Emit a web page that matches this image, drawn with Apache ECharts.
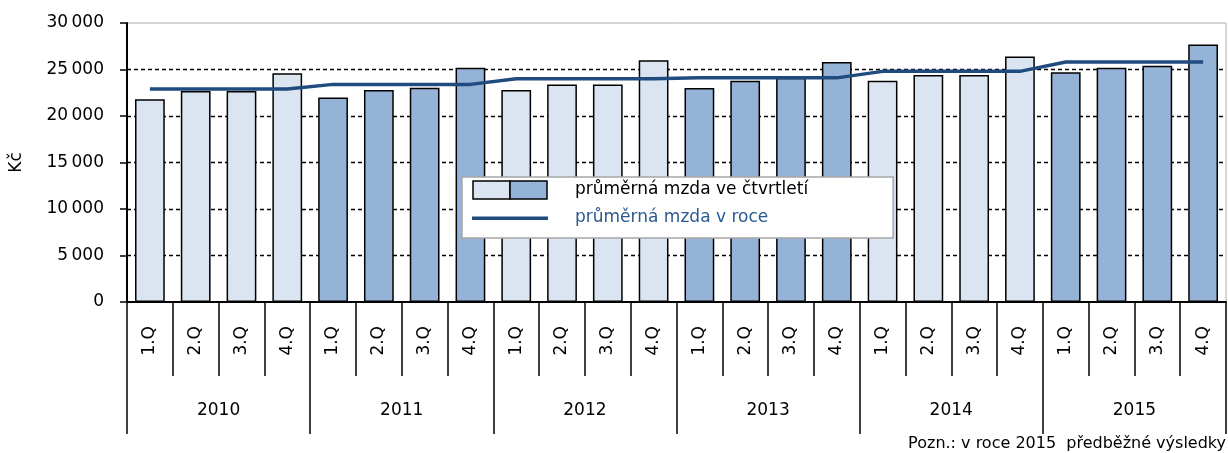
<!DOCTYPE html>
<html>
<head>
<meta charset="utf-8">
<script src="https://cdn.jsdelivr.net/npm/echarts@6/dist/echarts.min.js"></script>
<style>
  html, body { margin: 0; padding: 0; background: #fff; }
  #chart { width: 1228px; height: 453px; }
</style>
</head>
<body>
<div id="chart"></div>
<script>
// data
var years = ['2010', '2011', '2012', '2013', '2014', '2015'];
var quarters = ['1.Q', '2.Q', '3.Q', '4.Q'];
var quarterWage = [
  21800, 22700, 22700, 24600,
  22000, 22800, 23050, 25200,
  22800, 23400, 23400, 26000,
  23000, 23800, 24100, 25800,
  23800, 24400, 24400, 26400,
  24700, 25200, 25400, 27700
];
var yearWage = [22900, 23400, 24000, 24100, 24800, 25800];
var yTicks = [0, 5000, 10000, 15000, 20000, 25000, 30000];

var FONT = 'DejaVu Sans';
var LIGHT = '#DBE5F1';
var DARK = '#95B3D7';
var LINE = '#1F4B7E';

// category list for the lower axis: one entry per quarter
var qCats = [];
var lineData = [];
years.forEach(function (y, yi) {
  quarters.forEach(function (q) {
    qCats.push(q);
    lineData.push(yearWage[yi]);
  });
});

function svgIcon(svg) {
  return 'image://data:image/svg+xml;charset=utf-8,' + encodeURIComponent(svg);
}
var barIcon = svgIcon('<svg xmlns="http://www.w3.org/2000/svg" width="76" height="20" viewBox="0 0 76 20">' +
  '<rect x="1" y="1" width="37" height="18" fill="' + LIGHT + '" stroke="#000" stroke-width="1.5"/>' +
  '<rect x="38" y="1" width="37" height="18" fill="' + DARK + '" stroke="#000" stroke-width="1.5"/></svg>');
var lineIcon = svgIcon('<svg xmlns="http://www.w3.org/2000/svg" width="76" height="20" viewBox="0 0 76 20">' +
  '<rect x="0" y="8.5" width="76" height="3.5" fill="' + LINE + '"/></svg>');

var myChart = echarts.init(document.getElementById('chart'));
var option = {
  animation: false,
  textStyle: { fontFamily: FONT },
  grid: {
    left: 125, right: 2, top: 23, bottom: 151,
    show: true, borderColor: '#aaaaaa', borderWidth: 1
  },
  legend: {
    left: 462, top: 177,
    orient: 'vertical',
    itemWidth: 76, itemHeight: 20, itemGap: 8,
    padding: [3, 85, 10, 10],
    backgroundColor: '#fff',
    borderColor: '#a6a6a6', borderWidth: 1.5,
    selectedMode: false,
    textStyle: { fontFamily: FONT, fontSize: 17, color: '#000', padding: [0, 0, 0, 22] },
    data: [
      { name: 'průměrná mzda ve čtvrtletí', icon: barIcon },
      { name: 'průměrná mzda v roce', icon: lineIcon, textStyle: { color: '#2A5A8E' } }
    ]
  },
  xAxis: [
    {
      type: 'category',
      data: qCats,
      boundaryGap: true,
      axisLine: { lineStyle: { color: '#000', width: 2 } },
      axisTick: { show: true, interval: 0, length: 74, lineStyle: { color: '#000', width: 1.5 } },
      axisLabel: { interval: 0, rotate: 90, margin: 24, fontSize: 17, color: '#000', fontFamily: FONT }
    },
    {
      type: 'category',
      data: years,
      position: 'bottom',
      boundaryGap: true,
      axisLine: { show: false },
      axisTick: { show: true, interval: 0, length: 132, lineStyle: { color: '#000', width: 1.5 } },
      axisLabel: { interval: 0, margin: 100, fontSize: 17, color: '#000', fontFamily: FONT }
    }
  ],
  yAxis: {
    type: 'value',
    min: 0, max: 30000, interval: 5000,
    name: 'Kč',
    nameLocation: 'middle',
    nameGap: 102,
    nameTextStyle: { fontSize: 17, color: '#000', fontFamily: FONT },
    axisLine: { show: true, lineStyle: { color: '#000', width: 2 } },
    axisTick: { show: true, length: 7, lineStyle: { color: '#000', width: 1.5 } },
    axisLabel: {
      margin: 23, fontSize: 17, color: '#000', fontFamily: FONT,
      formatter: function (v) {
        return String(v).replace(/\B(?=(\d{3})+(?!\d))/g, '\u202f');
      }
    },
    splitLine: {
      show: true, showMaxLine: false, showMinLine: false,
      lineStyle: { color: '#000', width: 1.3, type: [4, 3] }
    }
  },
  series: [
    {
      name: 'průměrná mzda ve čtvrtletí',
      type: 'bar',
      xAxisIndex: 0,
      barWidth: '65%',
      data: quarterWage,
      itemStyle: {
        borderColor: '#000',
        borderWidth: 1.5,
        color: function (p) {
          return Math.floor(p.dataIndex / 4) % 2 === 0 ? LIGHT : DARK;
        }
      }
    },
    {
      name: 'průměrná mzda v roce',
      type: 'line',
      xAxisIndex: 0,
      data: lineData,
      symbol: 'none',
      z: 5,
      lineStyle: { color: LINE, width: 3.5 },
      itemStyle: { color: LINE }
    }
  ],
  graphic: [
    {
      type: 'text',
      right: 2, bottom: 1,
      style: {
        text: 'Pozn.: v roce 2015  předběžné výsledky',
        font: '16px "DejaVu Sans"',
        fill: '#000'
      }
    }
  ]
};
myChart.setOption(option);
</script>
</body>
</html>
